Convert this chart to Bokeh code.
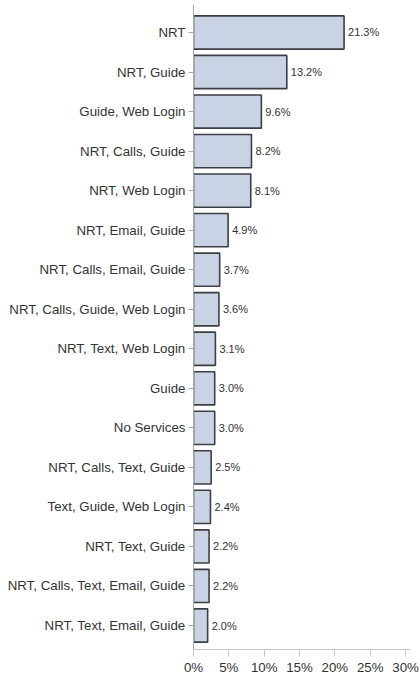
from bokeh.plotting import figure
from bokeh.models import Range1d, FixedTicker, PrintfTickFormatter, ColumnDataSource
from bokeh.core.properties import value
from bokeh.embed import file_html
from bokeh.resources import INLINE

categories = [
    "NRT", "NRT, Guide", "Guide, Web Login", "NRT, Calls, Guide", "NRT, Web Login",
    "NRT, Email, Guide", "NRT, Calls, Email, Guide", "NRT, Calls, Guide, Web Login",
    "NRT, Text, Web Login", "Guide", "No Services", "NRT, Calls, Text, Guide",
    "Text, Guide, Web Login", "NRT, Text, Guide", "NRT, Calls, Text, Email, Guide",
    "NRT, Text, Email, Guide",
]
percents = [21.3, 13.2, 9.6, 8.2, 8.1, 4.9, 3.7, 3.6, 3.1, 3.0, 3.0, 2.5, 2.4, 2.2, 2.2, 2.0]
x_ticks = [0, 5, 10, 15, 20, 25, 30]

pos = list(range(len(categories)))
src = ColumnDataSource(dict(
    y=pos, v=percents, lab=[f"{v:.1f}%" for v in percents],
))

FONT = "Liberation Sans"
TXT = "#333333"

p = figure(width=420, height=677, output_backend="svg", toolbar_location=None,
           x_range=Range1d(0, 30.7),
           y_range=Range1d(len(categories) - 1 + 0.607, -0.708),
           min_border_left=193, min_border_right=10, min_border_top=4, min_border_bottom=28)
p.outline_line_color = None
p.xgrid.visible = False
p.ygrid.visible = False
p.background_fill_color = "white"
p.border_fill_color = "white"

p.hbar(y="y", right="v", left=0, height=0.84, source=src,
       fill_color="#c9d3e4", line_color="#3c3f44", line_width=1.6)
p.text(x="v", y="y", text="lab", source=src, x_offset=4,
       text_baseline="middle", text_align="left",
       text_font=value(FONT), text_font_size="11px", text_color=TXT)

xa = p.xaxis[0]
xa.ticker = FixedTicker(ticks=x_ticks)
xa.formatter = PrintfTickFormatter(format="%d%%")
xa.axis_line_color = "#c8c8c8"
xa.major_tick_line_color = "#c8c8c8"
xa.major_tick_out = 7
xa.major_tick_in = 0
xa.minor_tick_line_color = None
xa.major_label_standoff = 3
xa.major_label_text_font = FONT
xa.major_label_text_font_size = "13.3px"
xa.major_label_text_color = TXT

ya = p.yaxis[0]
ya.ticker = FixedTicker(ticks=pos)
ya.major_label_overrides = {i: c for i, c in zip(pos, categories)}
ya.axis_line_color = "#aaaaaa"
ya.major_tick_line_color = "#aaaaaa"
ya.major_tick_out = 5
ya.major_tick_in = 0
ya.minor_tick_line_color = None
ya.major_label_standoff = 3
ya.major_label_text_font = FONT
ya.major_label_text_font_size = "13.3px"
ya.major_label_text_color = TXT

open("out.html", "w").write(file_html(p, INLINE))
